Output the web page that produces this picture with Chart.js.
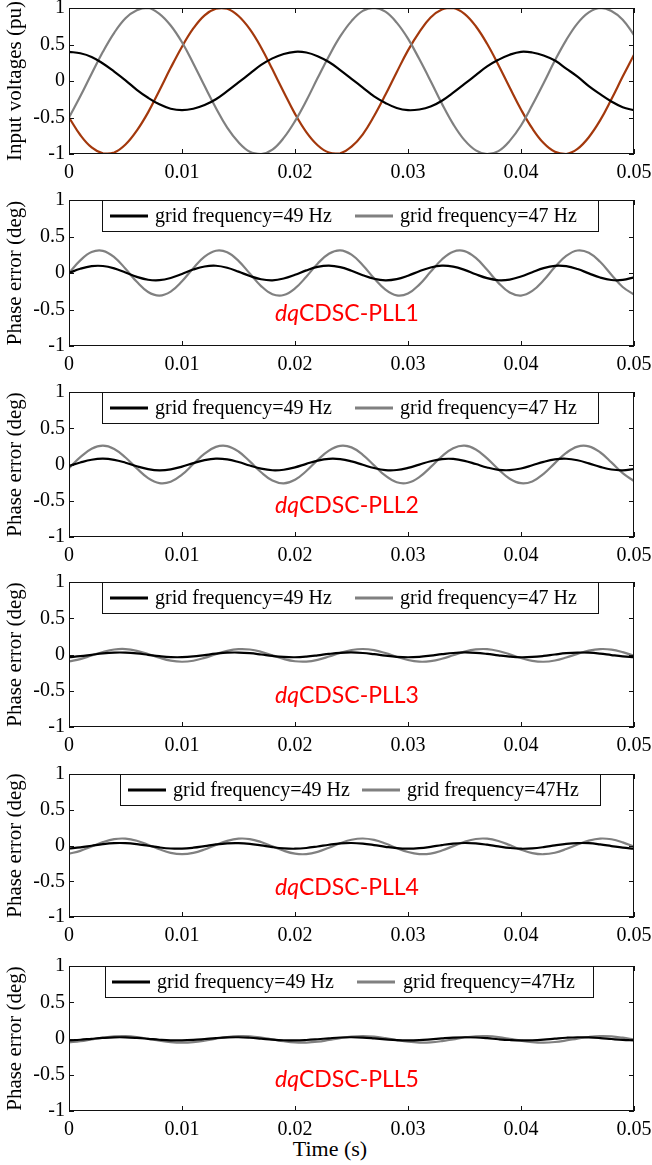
<!DOCTYPE html>
<html>
<head>
<meta charset="utf-8">
<script src="https://cdn.jsdelivr.net/npm/chart.js@4.4.1/dist/chart.umd.min.js"></script>
<style>
    html, body { margin: 0; padding: 0; background: #fff; }
    #wrap { position: relative; width: 652px; height: 1165px; overflow: hidden; }
    #wrap canvas { position: absolute; left: 0; }
    #time-label { position: absolute; left: 230px; width: 200px; top: 1136px; text-align: center;
        font: 22px 'Liberation Serif', 'Times New Roman', serif; color: #000; line-height: 26px; }
</style>
</head>
<body>
<div id="wrap"><div id="time-label">Time (s)</div></div>
<script>
// --- Data ---
const timeS = [0,0.001,0.002,0.003,0.004,0.005,0.006,0.007,0.008,0.009,0.010,0.011,0.012,0.013,0.014,0.015,0.016,0.017,0.018,0.019,0.020,0.021,0.022,0.023,0.024,0.025,0.026,0.027,0.028,0.029,0.030,0.031,0.032,0.033,0.034,0.035,0.036,0.037,0.038,0.039,0.040,0.041,0.042,0.043,0.044,0.045,0.046,0.047,0.048,0.049,0.050];

// input voltages (pu)
const inputBlack = [0.40,0.38,0.33,0.24,0.13,0.01,-0.12,-0.23,-0.32,-0.38,-0.40,-0.38,-0.33,-0.25,-0.14,-0.02,0.10,0.22,0.31,0.37,0.40,0.39,0.34,0.26,0.15,0.03,-0.09,-0.21,-0.30,-0.37,-0.40,-0.39,-0.35,-0.27,-0.16,-0.04,0.08,0.20,0.29,0.36,0.40,0.39,0.35,0.28,0.17,0.06,-0.07,-0.18,-0.28,-0.36,-0.40];
const inputGray = [-0.50,-0.21,0.10,0.40,0.66,0.86,0.97,1.00,0.92,0.76,0.53,0.24,-0.07,-0.37,-0.64,-0.84,-0.97,-1.00,-0.94,-0.78,-0.55,-0.27,0.04,0.34,0.61,0.82,0.96,1.00,0.95,0.80,0.58,0.30,0.00,-0.31,-0.59,-0.81,-0.95,-1.00,-0.96,-0.82,-0.61,-0.33,-0.03,0.28,0.56,0.79,0.94,1.00,0.96,0.84,0.63];
const inputRed = [-0.50,-0.74,-0.91,-0.99,-0.98,-0.87,-0.68,-0.43,-0.13,0.18,0.47,0.72,0.90,0.99,0.99,0.89,0.71,0.46,0.16,-0.15,-0.45,-0.70,-0.88,-0.98,-0.99,-0.90,-0.73,-0.48,-0.19,0.12,0.42,0.67,0.87,0.98,1.00,0.92,0.75,0.51,0.22,-0.09,-0.39,-0.65,-0.85,-0.97,-1.00,-0.93,-0.77,-0.54,-0.25,0.06,0.36];

// phase error (deg), 49 Hz and 47 Hz grid
const pll1Hz49 = [0,0.058,0.094,0.096,0.063,0.006,-0.053,-0.092,-0.098,-0.068,-0.013,0.047,0.089,0.099,0.072,0.019,-0.041,-0.086,-0.100,-0.076,-0.025,0.036,0.083,0.100,0.080,0.031,-0.030,-0.079,-0.100,-0.084,-0.037,0.024,0.075,0.100,0.087,0.043,-0.018,-0.071,-0.099,-0.090,-0.048,0.011,0.067,0.098,0.093,0.054,-0.005,-0.062,-0.096,-0.095,-0.059];
const pll1Hz47 = [0,0.173,0.287,0.304,0.218,0.058,-0.121,-0.260,-0.310,-0.255,-0.114,0.066,0.223,0.305,0.284,0.166,-0.008,-0.179,-0.290,-0.302,-0.212,-0.051,0.128,0.264,0.310,0.251,0.107,-0.073,-0.228,-0.307,-0.281,-0.159,0.016,0.185,0.292,0.300,0.206,0.043,-0.135,-0.268,-0.309,-0.246,-0.100,0.081,0.234,0.308,0.277,0.153,-0.023,-0.192,-0.295];
const pll2Hz49 = [-0.020,0.028,0.066,0.080,0.064,0.025,-0.024,-0.063,-0.080,-0.067,-0.030,0.019,0.060,0.080,0.070,0.034,-0.014,-0.057,-0.079,-0.072,-0.039,0.009,0.053,0.078,0.074,0.043,-0.004,-0.049,-0.077,-0.076,-0.047,-0.001,0.045,0.075,0.077,0.051,0.006,-0.041,-0.073,-0.078,-0.055,-0.011,0.037,0.071,0.079,0.058,0.016,-0.032,-0.069,-0.080,-0.062];
const pll2Hz47 = [-0.050,0.101,0.217,0.260,0.215,0.096,-0.054,-0.187,-0.256,-0.238,-0.140,0.006,0.150,0.243,0.254,0.179,0.043,-0.107,-0.221,-0.260,-0.211,-0.090,0.061,0.191,0.257,0.236,0.134,-0.012,-0.155,-0.245,-0.252,-0.174,-0.037,0.113,0.224,0.259,0.207,0.084,-0.067,-0.196,-0.258,-0.233,-0.129,0.019,0.160,0.247,0.250,0.169,0.030,-0.119,-0.228];
const pll3Hz49 = [-0.036,-0.023,-0.004,0.015,0.026,0.026,0.015,-0.004,-0.023,-0.036,-0.037,-0.027,-0.008,0.011,0.025,0.027,0.018,0.000,-0.020,-0.034,-0.038,-0.029,-0.012,0.008,0.023,0.028,0.021,0.004,-0.016,-0.032,-0.038,-0.032,-0.016,0.004,0.021,0.028,0.023,0.008,-0.012,-0.029,-0.038,-0.034,-0.020,0.000,0.018,0.027,0.025,0.012,-0.008,-0.026,-0.037];
const pll3Hz47 = [-0.094,-0.063,-0.014,0.035,0.069,0.075,0.051,0.006,-0.045,-0.085,-0.100,-0.086,-0.046,0.005,0.050,0.074,0.069,0.037,-0.012,-0.061,-0.093,-0.098,-0.074,-0.028,0.023,0.062,0.076,0.060,0.020,-0.031,-0.076,-0.099,-0.092,-0.059,-0.010,0.039,0.070,0.074,0.048,0.002,-0.049,-0.087,-0.100,-0.083,-0.042,0.009,0.053,0.075,0.068,0.033,-0.017];
const pll4Hz49 = [-0.042,-0.027,-0.004,0.019,0.033,0.033,0.019,-0.004,-0.027,-0.042,-0.044,-0.031,-0.009,0.015,0.031,0.034,0.023,0.001,-0.023,-0.040,-0.045,-0.035,-0.014,0.010,0.029,0.035,0.026,0.006,-0.018,-0.038,-0.045,-0.038,-0.019,0.006,0.026,0.035,0.029,0.011,-0.013,-0.034,-0.045,-0.040,-0.023,0.001,0.023,0.034,0.032,0.015,-0.008,-0.031,-0.044];
const pll4Hz47 = [-0.115,-0.075,-0.015,0.047,0.089,0.096,0.067,0.011,-0.053,-0.103,-0.122,-0.104,-0.055,0.009,0.065,0.096,0.090,0.049,-0.012,-0.073,-0.114,-0.120,-0.089,-0.032,0.031,0.080,0.098,0.078,0.028,-0.036,-0.091,-0.120,-0.113,-0.071,-0.009,0.052,0.091,0.095,0.063,0.006,-0.058,-0.106,-0.122,-0.101,-0.050,0.014,0.069,0.097,0.087,0.044,-0.018];
const pll5Hz49 = [-0.026,-0.017,-0.004,0.008,0.016,0.016,0.008,-0.004,-0.017,-0.026,-0.026,-0.019,-0.007,0.006,0.015,0.017,0.010,-0.002,-0.015,-0.024,-0.027,-0.021,-0.010,0.003,0.014,0.017,0.012,0.001,-0.012,-0.023,-0.027,-0.023,-0.012,0.001,0.012,0.017,0.014,0.004,-0.010,-0.021,-0.027,-0.024,-0.015,-0.002,0.010,0.017,0.015,0.006,-0.007,-0.019,-0.026];
const pll5Hz47 = [-0.054,-0.038,-0.013,0.012,0.029,0.032,0.020,-0.003,-0.029,-0.049,-0.057,-0.050,-0.030,-0.003,0.020,0.032,0.030,0.013,-0.012,-0.037,-0.054,-0.056,-0.044,-0.020,0.006,0.026,0.033,0.025,0.004,-0.022,-0.044,-0.056,-0.053,-0.036,-0.011,0.014,0.030,0.032,0.019,-0.005,-0.031,-0.050,-0.057,-0.048,-0.027,-0.001,0.021,0.033,0.029,0.011,-0.014];

const xTicks = [0, 0.01, 0.02, 0.03, 0.04, 0.05];
const yTicks = [-1, -0.5, 0, 0.5, 1];
const label49 = 'grid frequency=49 Hz';
const label47 = 'grid frequency=47 Hz';
const label47b = 'grid frequency=47Hz';

// --- Layout / style ---
const SERIF = "'Liberation Serif', 'Times New Roman', serif";
const BLACK = '#000000';
const GRAY = '#808080';
const RED = '#a3380c';
const TICK = 5;

const legendStd = { x0: 102, x1: 598, h: 31, line1: 110, text1: 155, line2: 355, text2: 400 };
const panels = [
    { top: 8,   h: 146, yTitle: 'Input voltages (pu)', series: [[inputBlack, BLACK], [inputGray, GRAY], [inputRed, RED]] },
    { top: 200, h: 146, yTitle: 'Phase error (deg)', pll: 1, legend: legendStd, series: [[pll1Hz49, BLACK, label49], [pll1Hz47, GRAY, label47]] },
    { top: 392, h: 145, yTitle: 'Phase error (deg)', pll: 2, legend: legendStd, series: [[pll2Hz49, BLACK, label49], [pll2Hz47, GRAY, label47]] },
    { top: 582, h: 145, yTitle: 'Phase error (deg)', pll: 3, legend: legendStd, series: [[pll3Hz49, BLACK, label49], [pll3Hz47, GRAY, label47]] },
    { top: 774, h: 143, yTitle: 'Phase error (deg)', pll: 4, legend: { x0: 120, x1: 600, h: 31, line1: 128, text1: 173, line2: 362, text2: 407 }, series: [[pll4Hz49, BLACK, label49], [pll4Hz47, GRAY, label47b]] },
    { top: 966, h: 145, yTitle: 'Phase error (deg)', pll: 5, legend: { x0: 105, x1: 593, h: 31, line1: 112, text1: 157, line2: 357, text2: 403 }, series: [[pll5Hz49, BLACK, label49], [pll5Hz47, GRAY, label47b]] }
];

// frame + inward ticks on all four sides (matlab style)
const frameTicks = {
    id: 'frameTicks',
    afterDatasetsDraw(chart) {
        const { ctx, chartArea: a, scales: { x, y } } = chart;
        ctx.save();
        ctx.strokeStyle = '#111';
        ctx.lineWidth = 1;
        ctx.strokeRect(a.left + 0.5, a.top + 0.5, a.right - a.left - 1, a.bottom - a.top - 1);
        ctx.beginPath();
        xTicks.forEach(v => {
            const px = Math.round(x.getPixelForValue(v)) + 0.5;
            ctx.moveTo(px, a.bottom); ctx.lineTo(px, a.bottom - TICK);
            ctx.moveTo(px, a.top); ctx.lineTo(px, a.top + TICK);
        });
        yTicks.forEach(v => {
            const py = Math.round(y.getPixelForValue(v)) + 0.5;
            ctx.moveTo(a.left, py); ctx.lineTo(a.left + TICK, py);
            ctx.moveTo(a.right, py); ctx.lineTo(a.right - TICK, py);
        });
        ctx.stroke();
        ctx.restore();
    }
};

function makeOverlay(p) {
    return {
        id: 'overlay',
        afterDraw(chart) {
            const { ctx, chartArea: a } = chart;
            if (!p.pll) return;
            ctx.save();
            // legend box
            const L = p.legend;
            ctx.fillStyle = '#fff';
            ctx.fillRect(L.x0, a.top, L.x1 - L.x0, L.h);
            ctx.strokeStyle = '#111';
            ctx.lineWidth = 1;
            ctx.strokeRect(L.x0 + 0.5, a.top + 0.5, L.x1 - L.x0, L.h);
            const ly = a.top + 16;
            const entries = [[L.line1, L.text1], [L.line2, L.text2]];
            chart.data.datasets.forEach((ds, i) => {
                const [lx, tx] = entries[i];
                ctx.strokeStyle = ds.borderColor;
                ctx.lineWidth = 3;
                ctx.beginPath(); ctx.moveTo(lx, ly); ctx.lineTo(lx + 38, ly); ctx.stroke();
                ctx.fillStyle = '#000';
                ctx.font = `20px ${SERIF}`;
                ctx.textBaseline = 'middle';
                ctx.fillText(ds.label, tx, ly + 1);
            });
            // red method name
            const bx = 275, by = a.top + 121;
            ctx.fillStyle = '#ff0000';
            ctx.textBaseline = 'alphabetic';
            ctx.font = "italic 23px Lato, 'Open Sans', sans-serif";
            ctx.fillText('dq', bx, by);
            const w = ctx.measureText('dq').width;
            ctx.font = "23px Lato, 'Open Sans', sans-serif";
            ctx.fillText('CDSC-PLL' + p.pll, bx + w, by);
            ctx.restore();
        }
    };
}

const wrap = document.getElementById('wrap');
panels.forEach(p => {
    const cv = document.createElement('canvas');
    const H = 8 + p.h + 38;
    cv.width = 652; cv.height = H;
    cv.style.width = '652px'; cv.style.height = H + 'px';
    cv.style.top = (p.top - 8) + 'px';
    wrap.appendChild(cv);

    new Chart(cv.getContext('2d'), {
        type: 'line',
        data: {
            datasets: p.series.map(([vals, color, label]) => ({
                label: label || '',
                data: timeS.map((t, i) => ({ x: t, y: vals[i] })),
                borderColor: color,
                borderWidth: 2.2,
                pointRadius: 0,
                fill: false,
                tension: 0.4
            }))
        },
        options: {
            responsive: false,
            animation: false,
            devicePixelRatio: 1,
            layout: { padding: { left: 0, right: 18, top: 8, bottom: 0 } },
            plugins: { legend: { display: false }, tooltip: { enabled: false } },
            scales: {
                x: {
                    type: 'linear', min: 0, max: 0.05,
                    grid: { display: false, drawTicks: false },
                    border: { display: false },
                    afterBuildTicks: s => { s.ticks = xTicks.map(v => ({ value: v })); },
                    ticks: {
                        padding: 7, color: '#000', maxRotation: 0, autoSkip: false,
                        font: { family: SERIF, size: 20 },
                        callback: v => String(+v.toFixed(2))
                    },
                    afterFit: s => { s.height = 38; s.paddingLeft = 0; s.paddingRight = 0; }
                },
                y: {
                    min: -1, max: 1,
                    grid: { display: false, drawTicks: false },
                    border: { display: false },
                    afterBuildTicks: s => { s.ticks = yTicks.map(v => ({ value: v })); },
                    ticks: {
                        padding: 4, color: '#000',
                        font: { family: SERIF, size: 20 },
                        callback: v => String(v)
                    },
                    title: {
                        display: true, text: p.yTitle, color: '#000',
                        font: { family: SERIF, size: 21 },
                        padding: { top: 3, bottom: 0 }
                    },
                    afterFit: s => { s.width = 69; s.paddingTop = 0; s.paddingBottom = 0; }
                }
            }
        },
        plugins: [frameTicks, makeOverlay(p)]
    });
});
</script>
</body>
</html>
